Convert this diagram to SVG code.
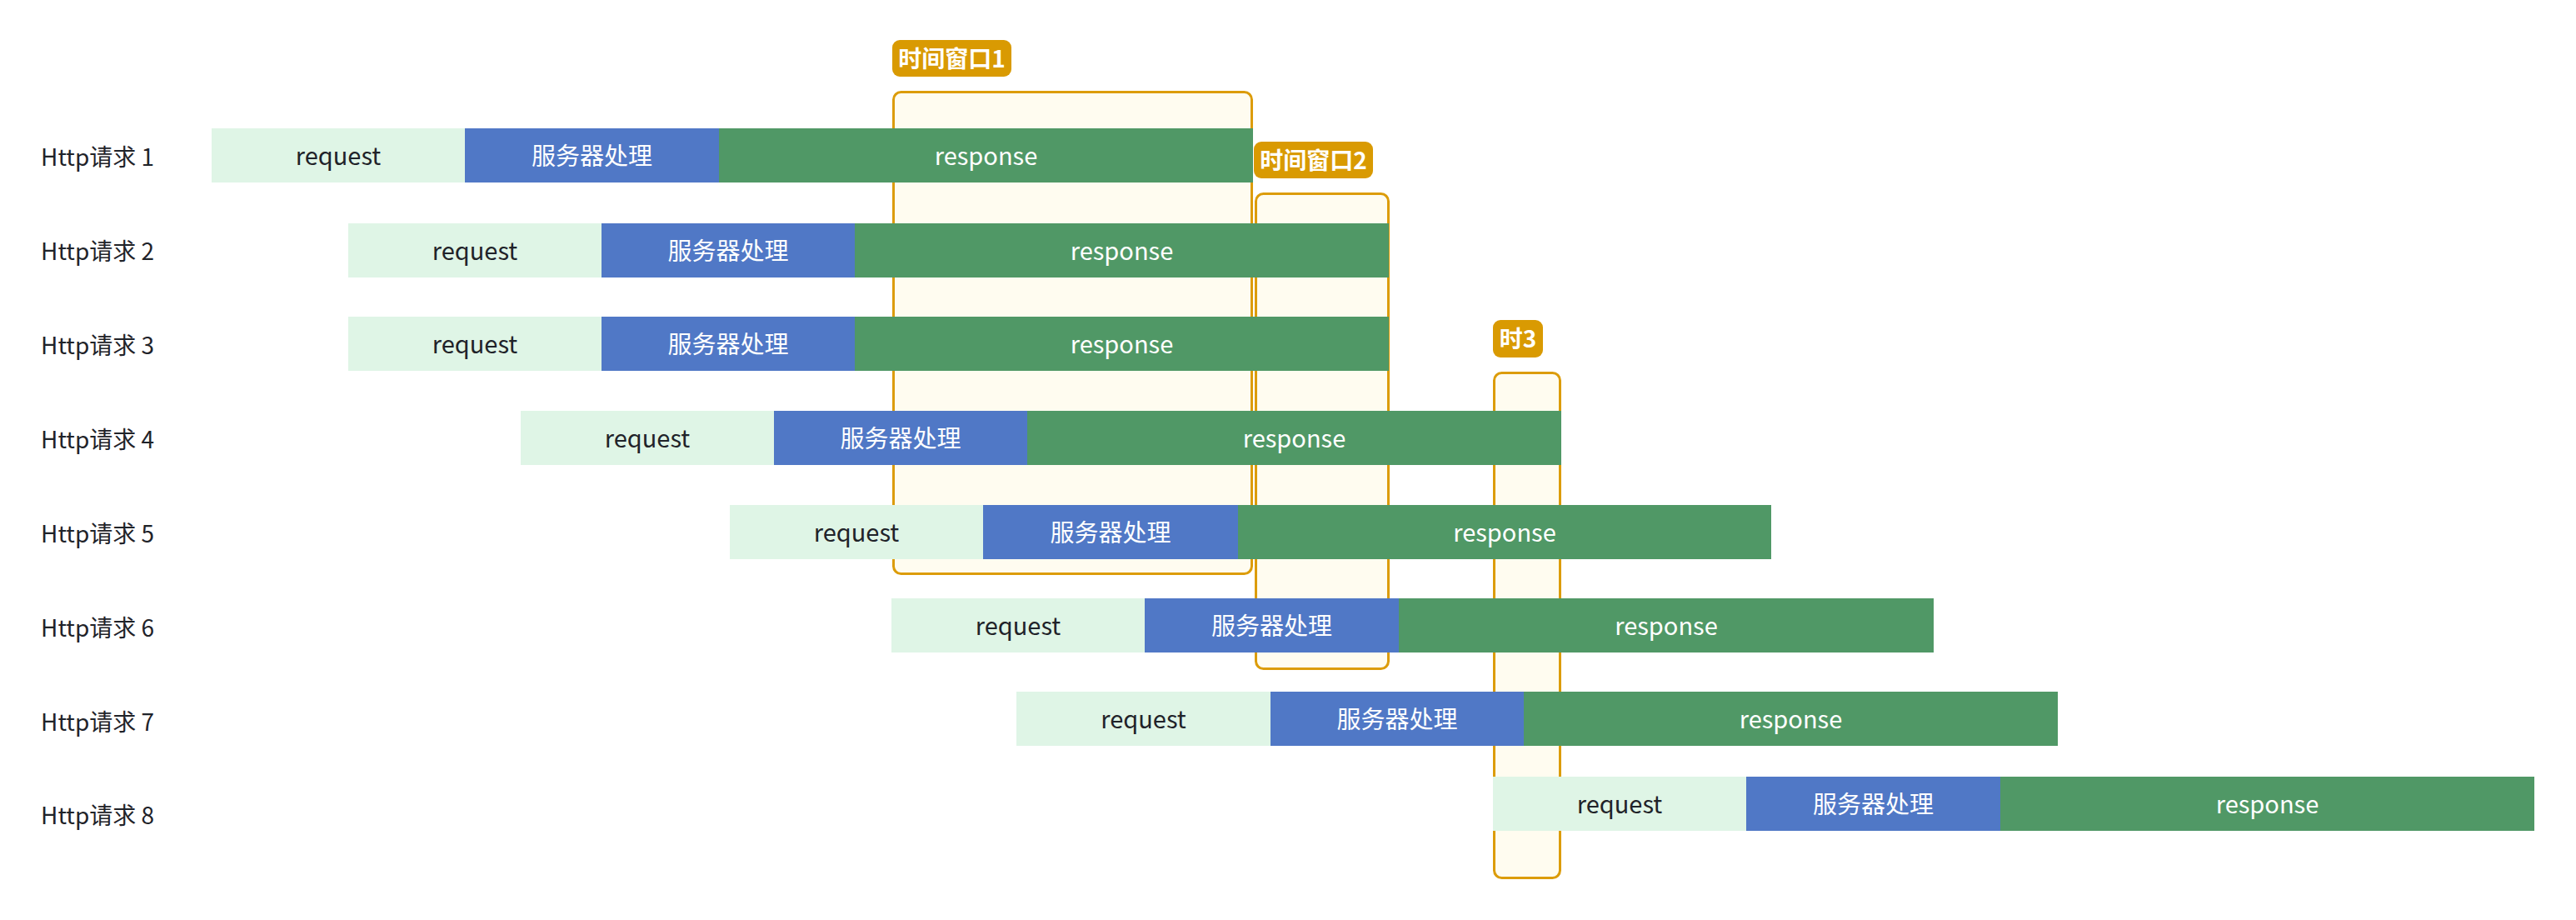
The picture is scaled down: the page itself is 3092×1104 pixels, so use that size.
<svg xmlns="http://www.w3.org/2000/svg" width="3092" height="1104" viewBox="0 0 3092 1104">
<style>
.lbl{font-family:"Noto Sans CJK SC","Noto Sans",sans-serif;font-size:28px;fill:#1f2329}
.req{fill:#dff5e6}
.srv{fill:#5078c6}
.rsp{fill:#509866}
.t{font-family:"Noto Sans CJK SC","Noto Sans",sans-serif;font-size:29px;text-anchor:middle}
.td{fill:#1f2329}
.tw{fill:#ffffff}
.win{fill:#fffcf0;stroke:#dc9c0a;stroke-width:3}
.wl{fill:#d99a02}
.wt{font-family:"Noto Sans CJK SC","Noto Sans",sans-serif;font-size:28px;font-weight:bold;fill:#ffffff;text-anchor:middle}
</style>
<rect width="3092" height="1104" fill="#ffffff"/>
<g id="window1">
<rect class="win" x="1072.5" y="110.5" width="430" height="578" rx="9"/>
<rect class="wl" x="1071" y="48" width="143" height="44" rx="9"/>
<text class="wt" x="1142.5" y="81">时间窗口1</text>
</g>
<g id="window2">
<rect class="win" x="1507.5" y="232.5" width="159" height="570" rx="9"/>
<rect class="wl" x="1505" y="170" width="143" height="44" rx="9"/>
<text class="wt" x="1576.5" y="203">时间窗口2</text>
</g>
<g id="window3">
<rect class="win" x="1793.5" y="447.5" width="79" height="606" rx="9"/>
<rect class="wl" x="1792" y="384" width="60" height="45" rx="9"/>
<text class="wt" x="1822" y="417">时3</text>
</g>
<g id="labels">
<text class="lbl" x="49" y="199">Http请求 1</text>
<text class="lbl" x="49" y="312">Http请求 2</text>
<text class="lbl" x="49" y="425">Http请求 3</text>
<text class="lbl" x="49" y="538">Http请求 4</text>
<text class="lbl" x="49" y="651">Http请求 5</text>
<text class="lbl" x="49" y="764">Http请求 6</text>
<text class="lbl" x="49" y="877">Http请求 7</text>
<text class="lbl" x="49" y="989">Http请求 8</text>
</g>
<g id="row1">
<rect class="req" x="254" y="154" width="304" height="65"/><text class="t td" x="406" y="198">request</text>
<rect class="srv" x="558" y="154" width="305" height="65"/><text class="t tw" x="710.5" y="198">服务器处理</text>
<rect class="rsp" x="863" y="154" width="641" height="65"/><text class="t tw" x="1183.5" y="198">response</text>
</g>
<g id="row2">
<rect class="req" x="418" y="268" width="304" height="65"/><text class="t td" x="570" y="312">request</text>
<rect class="srv" x="722" y="268" width="304" height="65"/><text class="t tw" x="874" y="312">服务器处理</text>
<rect class="rsp" x="1026" y="268" width="641" height="65"/><text class="t tw" x="1346.5" y="312">response</text>
</g>
<g id="row3">
<rect class="req" x="418" y="380" width="304" height="65"/><text class="t td" x="570" y="424">request</text>
<rect class="srv" x="722" y="380" width="304" height="65"/><text class="t tw" x="874" y="424">服务器处理</text>
<rect class="rsp" x="1026" y="380" width="641" height="65"/><text class="t tw" x="1346.5" y="424">response</text>
</g>
<g id="row4">
<rect class="req" x="625" y="493" width="304" height="65"/><text class="t td" x="777" y="537">request</text>
<rect class="srv" x="929" y="493" width="304" height="65"/><text class="t tw" x="1081" y="537">服务器处理</text>
<rect class="rsp" x="1233" y="493" width="641" height="65"/><text class="t tw" x="1553.5" y="537">response</text>
</g>
<g id="row5">
<rect class="req" x="876" y="606" width="304" height="65"/><text class="t td" x="1028" y="650">request</text>
<rect class="srv" x="1180" y="606" width="306" height="65"/><text class="t tw" x="1333" y="650">服务器处理</text>
<rect class="rsp" x="1486" y="606" width="640" height="65"/><text class="t tw" x="1806" y="650">response</text>
</g>
<g id="row6">
<rect class="req" x="1070" y="718" width="304" height="65"/><text class="t td" x="1222" y="762">request</text>
<rect class="srv" x="1374" y="718" width="305" height="65"/><text class="t tw" x="1526.5" y="762">服务器处理</text>
<rect class="rsp" x="1679" y="718" width="642" height="65"/><text class="t tw" x="2000" y="762">response</text>
</g>
<g id="row7">
<rect class="req" x="1220" y="830" width="305" height="65"/><text class="t td" x="1372.5" y="874">request</text>
<rect class="srv" x="1525" y="830" width="304" height="65"/><text class="t tw" x="1677" y="874">服务器处理</text>
<rect class="rsp" x="1829" y="830" width="641" height="65"/><text class="t tw" x="2149.5" y="874">response</text>
</g>
<g id="row8">
<rect class="req" x="1792" y="932" width="304" height="65"/><text class="t td" x="1944" y="976">request</text>
<rect class="srv" x="2096" y="932" width="305" height="65"/><text class="t tw" x="2248.5" y="976">服务器处理</text>
<rect class="rsp" x="2401" y="932" width="641" height="65"/><text class="t tw" x="2721.5" y="976">response</text>
</g>
<g id="connectors"></g>
</svg>
